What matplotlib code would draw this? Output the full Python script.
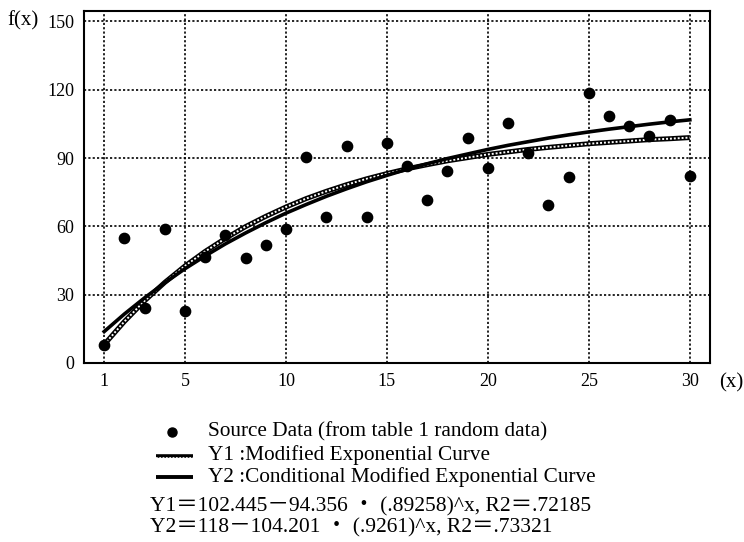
import numpy as np
import matplotlib
matplotlib.use("Agg")
import matplotlib.pyplot as plt
from matplotlib.lines import Line2D

plt.rcParams["font.family"] = ["Liberation Serif", "Noto Sans CJK JP", "DejaVu Serif"]

# Data
x_vals = list(range(1, 31))
source_data = [8, 55, 24, 59, 23, 46.5, 56, 46, 52, 59,
               90.5, 64, 95.3, 64, 96.6, 86.5, 71.6, 84.3, 98.8, 85.6,
               105.4, 92.2, 69.4, 81.7, 118.8, 108.7, 104.2, 99.5, 106.7, 82.1]
y1_curve = [8.1, 18.2, 27.3, 35.4, 42.6, 49.0, 54.7, 59.9, 64.4, 68.5,
            72.2, 75.4, 78.3, 80.9, 83.2, 85.3, 87.1, 88.8, 90.2, 91.6,
            92.7, 93.8, 94.7, 95.5, 96.3, 96.9, 97.5, 98.1, 98.5, 99.0]
y2_curve = [13.8, 21.5, 28.6, 35.2, 41.4, 47.0, 52.3, 57.1, 61.6, 65.8,
            69.6, 73.2, 76.5, 79.6, 82.4, 85.1, 87.5, 89.8, 91.8, 93.8,
            95.6, 97.2, 98.8, 100.2, 101.5, 102.7, 103.8, 104.9, 105.9, 106.8]
x_ticks = [1, 5, 10, 15, 20, 25, 30]
y_ticks = [0, 30, 60, 90, 120, 150]

legend_labels = ["Source Data (from table 1 random data)",
                 "Y1 :Modified Exponential Curve",
                 "Y2 :Conditional Modified Exponential Curve"]
equations = ["Y1\uff1d102.445\uff0d94.356 \u30fb (.89258)^x, R2\uff1d.72185",
             "Y2\uff1d118\uff0d104.201 \u30fb (.9261)^x, R2\uff1d.73321"]

fig = plt.figure(figsize=(7.44, 5.42), dpi=100)
ax = fig.add_axes([0.1129, 0.3303, 0.8414, 0.6494])

grid_ls = (0, (1.3, 1.3))
for xv in x_ticks:
    ax.axvline(xv, color="black", lw=1.2, ls=grid_ls, zorder=1)
for yv in y_ticks[1:]:
    ax.axhline(yv, color="black", lw=1.2, ls=grid_ls, zorder=1)

# Y1: hatched band (black line with white dots inside)
ax.plot(x_vals, y1_curve, color="black", lw=3.6, zorder=3, solid_capstyle="butt")
ax.plot(x_vals, y1_curve, color="white", lw=1.4, ls=(0, (1, 1)), zorder=4)
# Y2: thick solid
ax.plot(x_vals, y2_curve, color="black", lw=2.6, zorder=5)
ax.scatter(x_vals, source_data, s=55, color="black", zorder=6)

ax.set_xlim(0, 31)
ax.set_ylim(0, 154.6)
ax.set_xticks(x_ticks)
ax.set_yticks(y_ticks)
ax.tick_params(length=0, labelsize=13, pad=7)
for sp in ax.spines.values():
    sp.set_linewidth(1.5)

fig.text(0.010, 0.962, "f(x)", fontsize=15, ha="left", va="center")
fig.text(0.966, 0.294, "(x)", fontsize=15, ha="left", va="center")

# legend drawn manually below the axes
W, H = 744, 542


def fx(px):
    return px / W


def fy(py):
    return 1 - py / H


fig.add_artist(Line2D([fx(172)], [fy(432)], marker="o", ms=6.5, color="black"))
fig.add_artist(Line2D([fx(156), fx(193)], [fy(456), fy(456)], color="black", lw=2.6,
                      solid_capstyle="butt"))
fig.add_artist(Line2D([fx(156), fx(193)], [fy(457.5), fy(457.5)], color="white", lw=1.2,
                      ls=(0, (1, 1))))
fig.add_artist(Line2D([fx(156), fx(193)], [fy(477), fy(477)], color="black", lw=2.8,
                      solid_capstyle="butt"))
for lab, py in zip(legend_labels, [432, 455, 477]):
    fig.text(fx(208), fy(py), lab, fontsize=15.3, ha="left", va="center")
for eq, py in zip(equations, [507, 528]):
    fig.text(fx(150), fy(py), eq, fontsize=15.5, ha="left", va="center")

fig.savefig("out.png", dpi=100)
